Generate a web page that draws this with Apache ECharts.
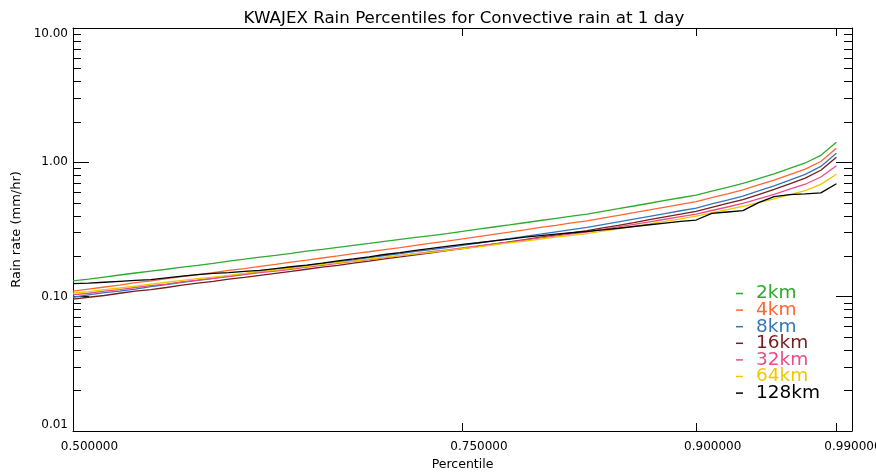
<!DOCTYPE html>
<html>
<head>
<meta charset="utf-8">
<script src="https://cdn.jsdelivr.net/npm/echarts@6/dist/echarts.min.js"></script>
<style>html,body{margin:0;padding:0;background:#fff}#chart{width:876px;height:474px}</style>
</head>
<body>
<div id="chart"></div>
<script>
const percentiles = ['0.50','0.51','0.52','0.53','0.54','0.55','0.56','0.57','0.58','0.59',
  '0.60','0.61','0.62','0.63','0.64','0.65','0.66','0.67','0.68','0.69',
  '0.70','0.71','0.72','0.73','0.74','0.75','0.76','0.77','0.78','0.79',
  '0.80','0.81','0.82','0.83','0.84','0.85','0.86','0.87','0.88','0.89',
  '0.90','0.91','0.92','0.93','0.94','0.95','0.96','0.97','0.98','0.99','1.00'];
const xTickLabels = ['0.50','0.75','0.90','0.99'];
const yTickValues = [0.01, 0.1, 1, 10];
const yMinorTicks = [0.02,0.03,0.04,0.05,0.06,0.07,0.08,0.09,0.2,0.3,0.4,0.5,0.6,0.7,0.8,0.9,2,3,4,5,6,7,8,9];
const seriesNames = ['2km','4km','8km','16km','32km','64km','128km'];
const seriesColors = ['#2eaa2e','#ff6633','#3377bb','#7a1c1c','#ee4c88','#efc800','#000000'];

const rain2km = [0.131,0.135,0.140,0.145,0.150,0.155,0.160,0.166,0.171,0.177,
  0.184,0.190,0.197,0.203,0.210,0.218,0.225,0.233,0.241,0.249,
  0.258,0.267,0.276,0.285,0.295,0.306,0.318,0.330,0.342,0.355,
  0.369,0.383,0.397,0.412,0.432,0.452,0.473,0.496,0.520,0.545,
  0.571,0.611,0.652,0.697,0.757,0.822,0.902,0.989,1.127,1.409];
const rain4km = [0.110,0.114,0.118,0.122,0.127,0.131,0.136,0.141,0.146,0.151,
  0.157,0.162,0.168,0.174,0.181,0.187,0.194,0.201,0.209,0.216,
  0.224,0.232,0.241,0.250,0.259,0.269,0.280,0.291,0.302,0.314,
  0.328,0.340,0.354,0.367,0.385,0.403,0.422,0.442,0.464,0.487,
  0.510,0.546,0.583,0.624,0.679,0.738,0.811,0.890,1.015,1.271];
const rain8km = [0.099,0.103,0.107,0.110,0.114,0.119,0.123,0.128,0.132,0.137,
  0.142,0.147,0.153,0.158,0.164,0.170,0.176,0.182,0.188,0.195,
  0.202,0.209,0.217,0.224,0.232,0.241,0.250,0.260,0.270,0.281,
  0.292,0.304,0.316,0.328,0.344,0.360,0.378,0.396,0.415,0.436,
  0.457,0.490,0.524,0.561,0.612,0.668,0.736,0.813,0.933,1.167];
const rain16km = [0.096,0.099,0.102,0.106,0.110,0.113,0.117,0.122,0.126,0.130,
  0.135,0.139,0.144,0.149,0.154,0.160,0.166,0.171,0.178,0.184,
  0.191,0.198,0.205,0.212,0.220,0.228,0.237,0.246,0.256,0.266,
  0.277,0.287,0.298,0.310,0.325,0.340,0.356,0.374,0.392,0.411,
  0.432,0.462,0.494,0.528,0.576,0.629,0.692,0.762,0.873,1.089];
const rain32km = [0.103,0.106,0.110,0.113,0.117,0.121,0.124,0.129,0.133,0.137,
  0.141,0.146,0.151,0.155,0.160,0.166,0.171,0.177,0.183,0.189,
  0.195,0.202,0.209,0.216,0.223,0.231,0.239,0.247,0.255,0.264,
  0.274,0.283,0.293,0.303,0.317,0.331,0.345,0.361,0.377,0.394,
  0.412,0.438,0.465,0.494,0.535,0.578,0.631,0.687,0.778,0.944];
const rain64km = [0.106,0.109,0.113,0.116,0.120,0.124,0.128,0.132,0.136,0.140,
  0.144,0.149,0.154,0.158,0.163,0.168,0.174,0.179,0.184,0.190,
  0.196,0.202,0.208,0.214,0.221,0.228,0.235,0.243,0.251,0.259,
  0.268,0.277,0.286,0.295,0.307,0.320,0.334,0.348,0.364,0.380,
  0.397,0.421,0.445,0.471,0.502,0.535,0.576,0.616,0.685,0.815];
const rain128km = [0.125,0.126,0.128,0.130,0.132,0.134,0.138,0.142,0.146,0.149,
  0.151,0.154,0.157,0.162,0.167,0.172,0.178,0.185,0.191,0.198,
  0.206,0.213,0.221,0.229,0.237,0.245,0.252,0.260,0.268,0.277,
  0.285,0.292,0.299,0.306,0.314,0.323,0.333,0.343,0.353,0.363,
  0.372,0.417,0.427,0.437,0.501,0.556,0.575,0.582,0.592,0.692];

const seriesData = [rain2km, rain4km, rain8km, rain16km, rain32km, rain64km, rain128km];

const FONT = 'DejaVu Sans';
const chart = echarts.init(document.getElementById('chart'), null, {renderer: 'canvas'});

const showTick = (idx, val) => xTickLabels.indexOf(val) >= 0;

const option = {
  animation: false,
  backgroundColor: '#ffffff',
  title: {
    text: 'KWAJEX Rain Percentiles for Convective rain at 1 day',
    left: 459, top: 5, textAlign: 'center',
    textStyle: {fontFamily: FONT, fontSize: 16.7, fontWeight: 'normal', color: '#000'}
  },
  grid: {left: 73, right: 24, top: 28, bottom: 43, outerBoundsMode: 'none', containLabel: false},
  legend: {
    orient: 'vertical', left: 731, top: 279,
    icon: 'rect', itemWidth: 7, itemHeight: 1.5, itemGap: -2.4,
    textStyle: {fontFamily: FONT, fontSize: 18.5, padding: [0,0,0,8]},
    data: seriesNames.map((n, i) => ({name: n, textStyle: {color: seriesColors[i]}}))
  },
  xAxis: [
    {
      type: 'category', position: 'bottom', data: percentiles, boundaryGap: false,
      name: 'Percentile', nameLocation: 'middle', nameGap: 26,
      nameTextStyle: {fontFamily: FONT, fontSize: 12.5, color: '#000'},
      axisLine: {show: true, lineStyle: {color: '#000', width: 1}},
      axisTick: {show: true, inside: true, length: 8, interval: showTick, lineStyle: {color: '#000'}},
      axisLabel: {show: true, interval: showTick, margin: 10, fontFamily: FONT, fontSize: 12, color: '#000',
        padding: [0,0,0,33], hideOverlap: false, formatter: v => Number(v).toFixed(6)},
      splitLine: {show: false}
    },
    {
      type: 'category', position: 'top', data: percentiles, boundaryGap: false,
      axisLine: {show: true, lineStyle: {color: '#000', width: 1}},
      axisTick: {show: true, inside: true, length: 8, interval: showTick, lineStyle: {color: '#000'}},
      axisLabel: {show: false}, splitLine: {show: false}
    }
  ],
  yAxis: [
    {
      type: 'log', logBase: 10, min: 0.01, max: 10, position: 'left',
      name: 'Rain rate (mm/hr)', nameLocation: 'middle', nameGap: 48,
      nameTextStyle: {fontFamily: FONT, fontSize: 13, color: '#000'},
      axisLine: {show: true, lineStyle: {color: '#000', width: 1}},
      axisTick: {show: true, inside: true, length: 16, customValues: yTickValues, lineStyle: {color: '#000'}},
      axisLabel: {show: true, customValues: yTickValues, margin: 5, fontFamily: FONT, fontSize: 12, color: '#000',
        verticalAlignMinLabel: 'bottom', verticalAlignMaxLabel: 'top',
        formatter: v => Number(v).toFixed(2)},
      splitLine: {show: false}
    },
    {
      type: 'log', logBase: 10, min: 0.01, max: 10, position: 'left',
      axisLine: {show: false},
      axisTick: {show: true, inside: true, length: 8, customValues: yMinorTicks, lineStyle: {color: '#000'}},
      axisLabel: {show: false}, splitLine: {show: false}
    },
    {
      type: 'log', logBase: 10, min: 0.01, max: 10, position: 'right',
      axisLine: {show: true, lineStyle: {color: '#000', width: 1}},
      axisTick: {show: true, inside: true, length: 16, customValues: yTickValues, lineStyle: {color: '#000'}},
      axisLabel: {show: false}, splitLine: {show: false}
    },
    {
      type: 'log', logBase: 10, min: 0.01, max: 10, position: 'right',
      axisLine: {show: false},
      axisTick: {show: true, inside: true, length: 8, customValues: yMinorTicks, lineStyle: {color: '#000'}},
      axisLabel: {show: false}, splitLine: {show: false}
    }
  ],
  series: seriesNames.map((n, i) => ({
    name: n, type: 'line', xAxisIndex: 0, yAxisIndex: 0,
    data: seriesData[i], showSymbol: false, symbol: 'none',
    lineStyle: {color: seriesColors[i], width: 1.3},
    itemStyle: {color: seriesColors[i]}
  }))
};
chart.setOption(option);
</script>
</body>
</html>
